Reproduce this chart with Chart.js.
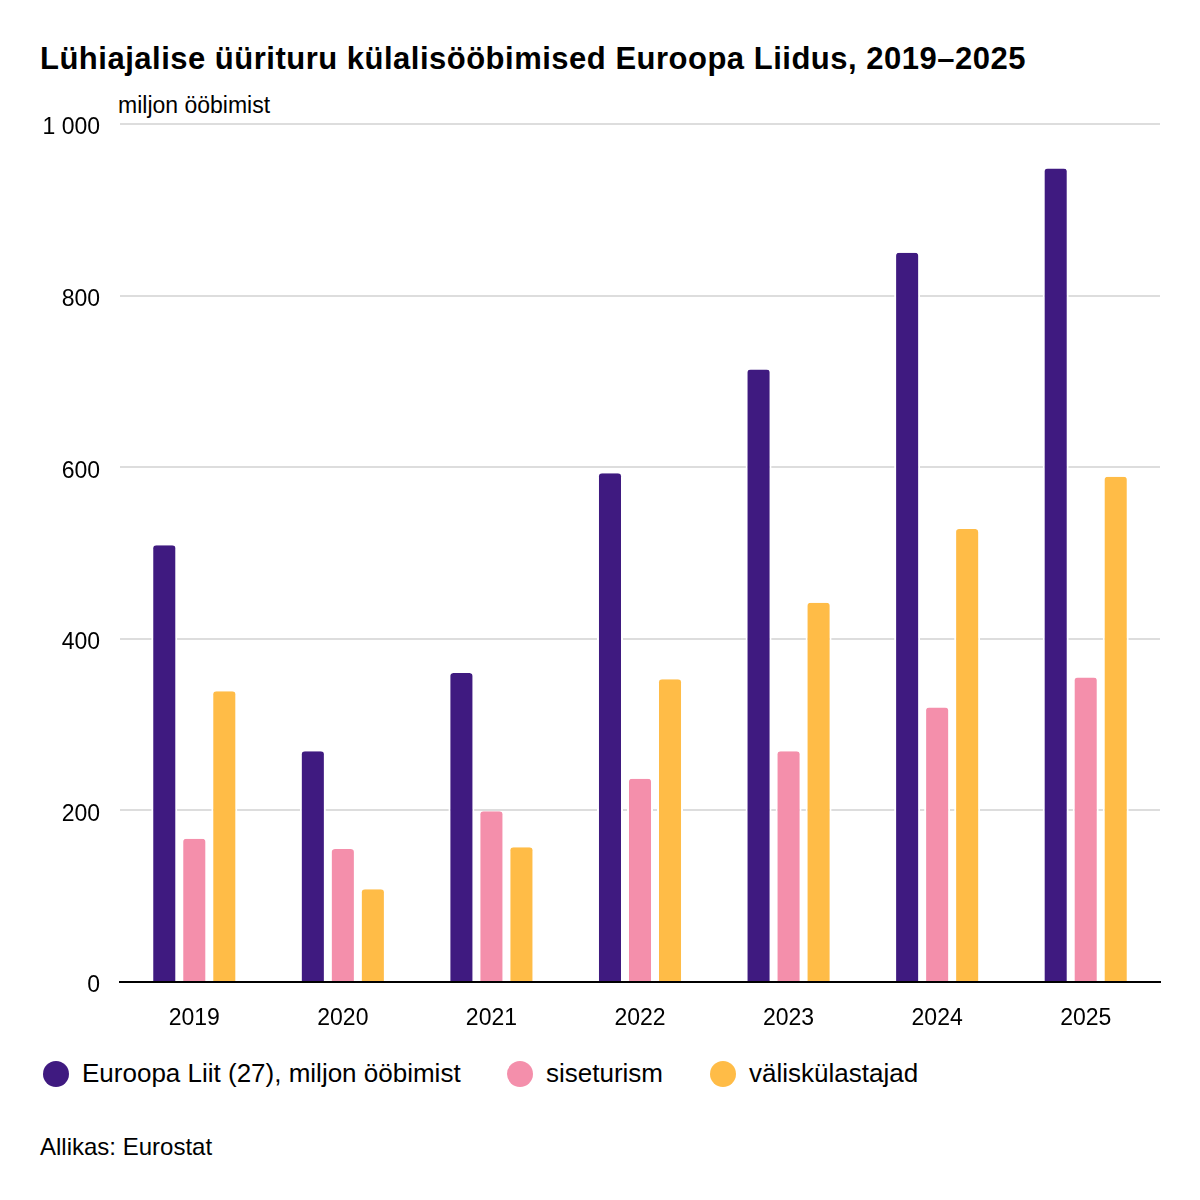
<!DOCTYPE html>
<html>
<head>
<meta charset="utf-8">
<script src="https://cdn.jsdelivr.net/npm/chart.js@4"></script>
<style>
  body { margin: 0; background: #fff; font-family: "Liberation Sans", Arial, sans-serif; color: #000; }
  #wrap { position: relative; width: 1200px; height: 1200px; overflow: hidden; }
  #title { position: absolute; left: 40px; top: 41px; font-size: 31px; letter-spacing: 0.5px; font-weight: bold; white-space: nowrap; line-height: normal; }
  #unit { position: absolute; left: 118px; top: 92px; font-size: 23px; }
  #box { position: absolute; left: 0; top: 0; width: 1200px; height: 1044px; }
  #legend { position: absolute; left: 43px; top: 1058px; font-size: 26px; }
  .item { position: absolute; top: 0; white-space: nowrap; line-height: 30px; }
  .dot { display: inline-block; width: 26px; height: 26px; border-radius: 50%; vertical-align: -5px; margin-right: 13px; }
  #source { position: absolute; left: 40px; top: 1133px; font-size: 24px; }
</style>
</head>
<body>
<div id="wrap">
  <div id="title">Lühiajalise üürituru külalisööbimised Euroopa Liidus, 2019–2025</div>
  <div id="unit">miljon ööbimist</div>
  <div id="box"><canvas id="chart"></canvas></div>
  <div id="legend"></div>
  <div id="source">Allikas: Eurostat</div>
</div>
<script>
// aastad ja väärtused (miljon ööbimist), loetud pildilt
var years = ['2019', '2020', '2021', '2022', '2023', '2024', '2025'];
var euTotal = [509, 269, 360, 593, 714, 850, 948];
var domestic = [167, 155, 199, 237, 269, 320, 355];
var foreign = [339, 108, 157, 353, 442, 528, 589];
var seriesNames = ['Euroopa Liit (27), miljon ööbimist', 'siseturism', 'väliskülastajad'];
var seriesColors = ['#3f1a80', '#f48fab', '#ffbc47'];
var legendX = [0, 464, 667];

var legend = document.getElementById('legend');
for (var i = 0; i < seriesNames.length; i++) {
  var el = document.createElement('div');
  el.className = 'item';
  el.style.left = legendX[i] + 'px';
  el.innerHTML = '<span class="dot" style="background:' + seriesColors[i] + '"></span>' + seriesNames[i];
  legend.appendChild(el);
}

function makeSet(label, data, color) {
  return {
    label: label,
    data: data,
    backgroundColor: color,
    borderColor: '#ffffff',
    borderWidth: { top: 0, left: 2, right: 2, bottom: 0 },
    borderSkipped: 'bottom',
    borderRadius: { topLeft: 5, topRight: 5 },
    categoryPercentage: 0.606,
    barPercentage: 0.867
  };
}

var ctx = document.getElementById('chart').getContext('2d');
var chart = new Chart(ctx, {
  type: 'bar',
  data: {
    labels: years,
    datasets: [
      makeSet(seriesNames[0], euTotal, seriesColors[0]),
      makeSet(seriesNames[1], domestic, seriesColors[1]),
      makeSet(seriesNames[2], foreign, seriesColors[2])
    ]
  },
  options: {
    responsive: true,
    maintainAspectRatio: false,
    animation: false,
    layout: { padding: { top: 124, right: 40, left: 0, bottom: 0 } },
    plugins: {
      legend: { display: false },
      title: { display: false },
      tooltip: { enabled: false }
    },
    scales: {
      x: {
        grid: { display: false, drawTicks: false },
        border: { display: true, color: '#000000', width: 2 },
        ticks: { color: '#000', padding: 23, font: { family: 'Liberation Sans', size: 23 } },
        afterFit: function(axis) { axis.height = 62; }
      },
      y: {
        min: 0,
        max: 1000,
        grid: { color: '#dddddd', lineWidth: 2, drawTicks: false },
        border: { display: false },
        ticks: {
          stepSize: 200,
          color: '#000',
          padding: 20,
          labelOffset: 4,
          font: { family: 'Liberation Sans', size: 23 },
          callback: function(v) { return String(v).replace(/\B(?=(\d{3})+(?!\d))/g, ' '); }
        },
        afterFit: function(axis) { axis.width = 120; }
      }
    }
  }
});
</script>
</body>
</html>
